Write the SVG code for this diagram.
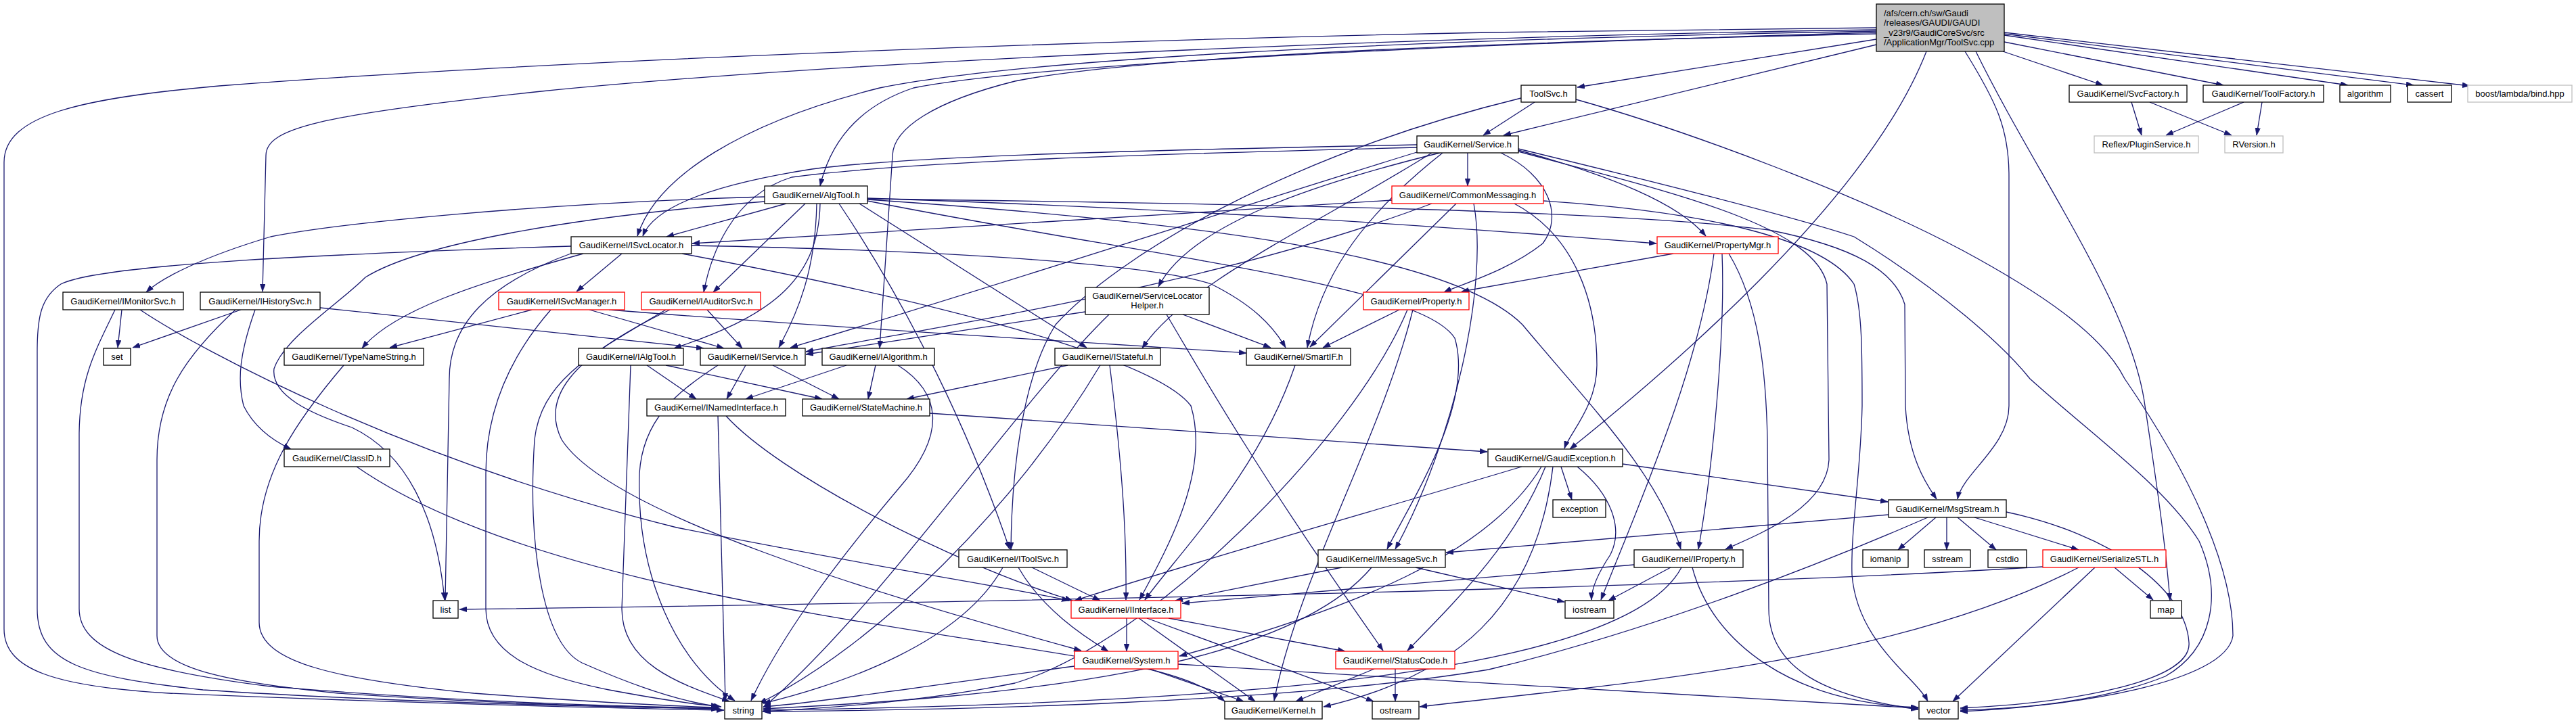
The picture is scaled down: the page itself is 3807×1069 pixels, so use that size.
<svg xmlns="http://www.w3.org/2000/svg" width="3807" height="1069" viewBox="0 0 3807 1069">
<style>
.e{fill:none;stroke:#191970;stroke-width:1.3;marker-end:url(#ah)}
.n rect{fill:#fff;stroke:#000;stroke-width:1.3}
.r rect{fill:#fff;stroke:#ff0000;stroke-width:1.3}
.g rect{fill:#fff;stroke:#bfbfbf;stroke-width:1.3}
.root rect{fill:#bfbfbf;stroke:#000;stroke-width:1.3}
text{font-family:"Liberation Sans",Arial,Helvetica,sans-serif;font-size:13px;fill:#000;text-anchor:middle}
.root text{text-anchor:start}
</style>
<defs>
<marker id="ah" markerUnits="userSpaceOnUse" markerWidth="11" markerHeight="8" refX="11" refY="4" orient="auto">
<path d="M0,0 L11,4 L0,8 z" fill="#191970" stroke="#191970" stroke-width="0.5"/>
</marker>
</defs>
<rect width="3807" height="1069" fill="#fff"/>
<g id="edges">
<path class="e" d="M2773,58 L2331,129"/>
<path class="e" d="M2773,66 L2222,200"/>
<path class="e" d="M2960,76 L3108,126"/>
<path class="e" d="M2962,62 L3286,126"/>
<path class="e" d="M2962,52 L3470,126"/>
<path class="e" d="M2962,50 L3567,126"/>
<path class="e" d="M2962,48 L3650,127"/>
<path class="e" d="M2847,76 C2760,300 2450,560 2320,664"/>
<path class="e" d="M2904,76 C2950,150 2969,190 2969,260 L2969,600 C2969,660 2900,700 2893,738"/>
<path class="e" d="M2920,76 C3010,260 3150,450 3170,600 C3185,700 3200,800 3207,888"/>
<path class="e" d="M2773,41 L2200,48 C1600,60 800,90 324,127 C120,145 6,170 6,240 L6,930 C6,990 80,1015 250,1025 C600,1040 950,1048 1070,1050"/>
<path class="e" d="M2773,44 C2200,52 1300,85 800,135 C470,170 393,190 393,230 L388,431"/>
<path class="e" d="M2773,46 C2000,60 1500,90 1300,130 C1100,180 970,260 942,349"/>
<path class="e" d="M2773,48 C2000,70 1500,100 1350,130 C1260,160 1225,220 1212,275"/>
<path class="e" d="M2773,50 C2300,60 1700,80 1500,120 C1380,150 1320,190 1319,230 L1300,515"/>
<path class="e" d="M2268,151 L2192,200"/>
<path class="e" d="M2329,147 C2500,195 2750,290 2900,370 C3030,440 3110,500 3140,560 C3250,720 3300,850 3300,940 C3290,1010 3060,1045 2897,1052"/>
<path class="e" d="M2248,145 C1900,230 1650,380 1560,480 C1510,560 1495,700 1494,813"/>
<path class="e" d="M3150,151 L3165,200"/>
<path class="e" d="M3177,151 L3298,200"/>
<path class="e" d="M3316,151 L3201,200"/>
<path class="e" d="M3343,151 L3335,200"/>
<path class="e" d="M2169,226 L2169,275"/>
<path class="e" d="M2128,226 C1950,270 1760,330 1712,424"/>
<path class="e" d="M2116,226 C1950,330 1750,420 1688,515"/>
<path class="e" d="M2132,226 C2000,330 1950,420 1932,514"/>
<path class="e" d="M2218,226 C2290,260 2310,320 2280,360 C2230,400 2160,420 2134,432"/>
<path class="e" d="M2244,222 C2380,260 2480,300 2521,349"/>
<path class="e" d="M2244,224 C2450,280 2680,330 2700,420 L2703,680 C2700,750 2600,790 2550,812"/>
<path class="e" d="M2094,214 C1700,222 1350,230 1200,250 C1040,275 965,310 950,349"/>
<path class="e" d="M2094,218 C1700,228 1350,238 1170,262 C1080,290 1050,380 1040,432"/>
<path class="e" d="M2094,225 C1850,300 1450,430 1168,514"/>
<path class="e" d="M2244,220 C2450,270 2650,320 2740,350 C2870,430 2960,510 3000,560 C3100,650 3200,720 3250,800 C3285,880 3270,960 3200,1000 C3100,1040 2980,1048 2897,1050"/>
<path class="e" d="M2281,297 C2550,315 2700,360 2740,420 C2752,460 2752,520 2752,600 C2750,700 2735,780 2737,850 C2745,950 2830,1000 2849,1037"/>
<path class="e" d="M2178,301 C2200,420 2150,650 2062,812"/>
<path class="e" d="M2152,301 L1936,513"/>
<path class="e" d="M2238,301 C2330,350 2360,450 2360,540 C2360,600 2320,640 2312,663"/>
<path class="e" d="M2057,296 C1700,320 1300,340 1023,360"/>
<path class="e" d="M2116,301 C1800,420 1400,480 1191,520"/>
<path class="e" d="M2473,375 L2160,431"/>
<path class="e" d="M2545,375 C2550,500 2530,700 2510,812"/>
<path class="e" d="M2555,375 C2600,450 2610,550 2612,650 L2614,900 C2614,990 2700,1030 2835,1049"/>
<path class="e" d="M2533,375 C2510,550 2420,750 2366,887"/>
<path class="e" d="M2068,458 L1955,514"/>
<path class="e" d="M2088,458 C2040,650 1920,850 1883,1036"/>
<path class="e" d="M2080,458 C2000,650 1700,950 1500,1010 C1350,1040 1200,1048 1127,1052"/>
<path class="e" d="M844,364 C500,375 150,390 90,420 C60,440 55,470 55,520 L55,900 C55,980 120,1000 300,1020 C600,1040 950,1046 1062,1048"/>
<path class="e" d="M846,374 C720,420 664,480 664,560 L658,887"/>
<path class="e" d="M862,375 C700,420 580,460 535,515"/>
<path class="e" d="M919,375 L852,431"/>
<path class="e" d="M1022,363 C1400,370 1700,390 1790,420 C1850,450 1880,480 1900,514"/>
<path class="e" d="M1008,375 C1300,430 1700,520 1760,600 C1790,700 1720,820 1684,887"/>
<path class="e" d="M1130,291 C800,300 500,330 400,350 C300,380 240,410 216,432"/>
<path class="e" d="M1130,298 C850,320 620,360 540,410 C500,450 420,500 405,545 C400,585 460,612 520,632 C600,670 645,760 657,887"/>
<path class="e" d="M1162,301 L985,350"/>
<path class="e" d="M1190,301 L1054,432"/>
<path class="e" d="M1207,301 C1205,400 1180,460 1151,514"/>
<path class="e" d="M1212,301 C1210,420 1130,470 996,515"/>
<path class="e" d="M1270,301 L1606,514"/>
<path class="e" d="M1240,301 C1320,420 1420,600 1492,812"/>
<path class="e" d="M1282,297 C1700,380 2100,420 2150,500 C2180,600 2080,750 2050,812"/>
<path class="e" d="M1282,293 C1800,310 2200,340 2448,360"/>
<path class="e" d="M1282,295 C1800,330 2150,380 2250,480 C2350,600 2450,700 2484,812"/>
<path class="e" d="M1282,294 C1900,302 2400,312 2614,340 C2740,365 2800,400 2815,450 L2816,600 C2820,680 2850,720 2862,738"/>
<path class="e" d="M180,458 L174,514"/>
<path class="e" d="M170,458 C140,520 118,560 117,640 L117,900 C117,960 200,990 400,1015 C700,1040 950,1045 1062,1047"/>
<path class="e" d="M207,458 C300,520 600,680 1000,780 C1300,840 1500,870 1580,888"/>
<path class="e" d="M356,458 L196,514"/>
<path class="e" d="M348,458 C270,530 232,590 232,680 L232,940 C232,990 350,1010 500,1025 C750,1042 960,1046 1062,1048"/>
<path class="e" d="M377,458 C355,520 350,560 360,600 C375,630 400,650 430,664"/>
<path class="e" d="M473,455 L1040,515"/>
<path class="e" d="M786,458 L576,514"/>
<path class="e" d="M814,458 C760,520 718,600 718,700 L718,900 C718,970 800,1000 900,1020 C980,1035 1030,1042 1062,1044"/>
<path class="e" d="M871,458 L1070,515"/>
<path class="e" d="M900,458 C1300,490 1600,505 1842,522"/>
<path class="e" d="M984,458 C880,520 800,560 790,650 C780,800 800,950 860,980 C950,1020 1020,1040 1066,1045"/>
<path class="e" d="M1045,458 L1097,515"/>
<path class="e" d="M990,458 C840,530 800,590 830,650 C900,760 1300,880 1598,962"/>
<path class="e" d="M1604,461 L1191,524"/>
<path class="e" d="M1748,465 L1878,514"/>
<path class="e" d="M1724,465 C1780,560 1860,700 2044,962"/>
<path class="e" d="M1639,465 C1500,600 1300,900 1128,1046"/>
<path class="e" d="M508,540 C440,620 383,700 383,800 L383,920 C383,980 500,1005 700,1025 C900,1040 1000,1044 1062,1046"/>
<path class="e" d="M932,540 L919,900 C919,980 1000,1010 1078,1037"/>
<path class="e" d="M956,540 L1029,590"/>
<path class="e" d="M984,540 L1215,590"/>
<path class="e" d="M1061,540 C1000,580 950,620 945,700 C940,850 1000,980 1086,1036"/>
<path class="e" d="M1102,540 L1074,590"/>
<path class="e" d="M1142,540 L1240,590"/>
<path class="e" d="M1251,540 L1102,590"/>
<path class="e" d="M1294,540 L1283,590"/>
<path class="e" d="M1327,540 C1390,580 1400,640 1330,720 C1220,850 1150,950 1110,1036"/>
<path class="e" d="M1578,540 L1340,590"/>
<path class="e" d="M1626,540 C1500,750 1300,950 1122,1040"/>
<path class="e" d="M1640,540 C1660,700 1665,800 1664,887"/>
<path class="e" d="M1914,540 C1860,700 1740,820 1692,887"/>
<path class="e" d="M1061,615 L1072,1036"/>
<path class="e" d="M1073,615 C1150,700 1400,830 1585,888"/>
<path class="e" d="M1374,611 L2198,668"/>
<path class="e" d="M527,690 C800,880 1400,930 1700,990 C1760,1005 1790,1020 1810,1037"/>
<path class="e" d="M2249,690 C2050,750 1800,820 1588,888"/>
<path class="e" d="M2278,690 C2200,820 2000,900 1743,970"/>
<path class="e" d="M2284,690 C2240,800 2160,880 2080,962"/>
<path class="e" d="M2295,690 C2270,900 2150,1000 1956,1045"/>
<path class="e" d="M2307,690 L2323,739"/>
<path class="e" d="M2331,690 C2380,730 2400,780 2380,820 C2360,850 2352,870 2352,887"/>
<path class="e" d="M2398,686 L2790,742"/>
<path class="e" d="M2791,761 L2137,817"/>
<path class="e" d="M2861,765 L2805,813"/>
<path class="e" d="M2877,765 L2877,813"/>
<path class="e" d="M2893,765 L2950,813"/>
<path class="e" d="M2918,765 L3072,813"/>
<path class="e" d="M2965,757 C3120,790 3230,870 3235,950 C3240,1010 3050,1040 2897,1047"/>
<path class="e" d="M2849,765 C2700,830 2450,930 2200,990 C1900,1040 1400,1050 1128,1052"/>
<path class="e" d="M3019,838 C2500,870 1500,890 679,901"/>
<path class="e" d="M3072,839 C2800,980 2400,1010 2098,1045"/>
<path class="e" d="M3096,839 L2886,1037"/>
<path class="e" d="M3125,839 L3182,887"/>
<path class="e" d="M1482,839 C1420,950 1250,1010 1128,1040"/>
<path class="e" d="M1505,839 C1540,900 1600,940 1638,963"/>
<path class="e" d="M1525,839 L1626,888"/>
<path class="e" d="M1983,839 L1737,888"/>
<path class="e" d="M2027,839 C1900,990 1500,1030 1128,1048"/>
<path class="e" d="M2092,839 L2312,890"/>
<path class="e" d="M2415,835 L1747,892"/>
<path class="e" d="M2469,839 L2377,888"/>
<path class="e" d="M2485,839 C2400,1000 1800,1040 1128,1050"/>
<path class="e" d="M2501,839 C2530,950 2650,1040 2835,1046"/>
<path class="e" d="M1665,914 L1665,963"/>
<path class="e" d="M1683,914 L1855,1037"/>
<path class="e" d="M1695,914 L2030,1037"/>
<path class="e" d="M1727,914 L1988,963"/>
<path class="e" d="M1588,985 C1400,1010 1200,1040 1128,1045"/>
<path class="e" d="M1699,989 L1838,1037"/>
<path class="e" d="M1741,982 C2100,1005 2500,1028 2835,1047"/>
<path class="e" d="M2031,989 L1915,1037"/>
<path class="e" d="M2062,989 L2062,1037"/>
</g>
<g id="nodes">
<g id="node-root" class="root"><rect x="2773" y="6" width="189" height="70"/><text x="2784" y="23.5">/afs/cern.ch/sw/Gaudi</text><text x="2784" y="38">/releases/GAUDI/GAUDI</text><text x="2784" y="52.5">_v23r9/GaudiCoreSvc/src</text><text x="2784" y="67">/ApplicationMgr/ToolSvc.cpp</text></g>
<g id="node-toolsvc" class="n"><rect x="2248" y="126" width="81" height="25"/><text x="2288.5" y="143">ToolSvc.h</text></g>
<g id="node-svcfactory" class="n"><rect x="3058" y="126" width="174" height="25"/><text x="3145" y="143">GaudiKernel/SvcFactory.h</text></g>
<g id="node-toolfactory" class="n"><rect x="3256" y="126" width="178" height="25"/><text x="3345" y="143">GaudiKernel/ToolFactory.h</text></g>
<g id="node-algorithm" class="n"><rect x="3458" y="126" width="75" height="25"/><text x="3495.5" y="143">algorithm</text></g>
<g id="node-cassert" class="n"><rect x="3558" y="126" width="65" height="25"/><text x="3590.5" y="143">cassert</text></g>
<g id="node-boost" class="g"><rect x="3647" y="126" width="154" height="25"/><text x="3724" y="143">boost/lambda/bind.hpp</text></g>
<g id="node-service" class="n"><rect x="2094" y="201" width="150" height="25"/><text x="2169" y="218">GaudiKernel/Service.h</text></g>
<g id="node-pluginservice" class="g"><rect x="3095" y="201" width="154" height="25"/><text x="3172" y="218">Reflex/PluginService.h</text></g>
<g id="node-rversion" class="g"><rect x="3288" y="201" width="86" height="25"/><text x="3331" y="218">RVersion.h</text></g>
<g id="node-algtool" class="n"><rect x="1130" y="275" width="152" height="26"/><text x="1206" y="292.5">GaudiKernel/AlgTool.h</text></g>
<g id="node-commonmessaging" class="r"><rect x="2057" y="275" width="224" height="26"/><text x="2169" y="292.5">GaudiKernel/CommonMessaging.h</text></g>
<g id="node-isvclocator" class="n"><rect x="844" y="350" width="178" height="25"/><text x="933" y="367">GaudiKernel/ISvcLocator.h</text></g>
<g id="node-propertymgr" class="r"><rect x="2449" y="350" width="179" height="25"/><text x="2538.5" y="367">GaudiKernel/PropertyMgr.h</text></g>
<g id="node-imonitorsvc" class="n"><rect x="93" y="432" width="178" height="26"/><text x="182" y="449.5">GaudiKernel/IMonitorSvc.h</text></g>
<g id="node-ihistorysvc" class="n"><rect x="296" y="432" width="177" height="26"/><text x="384.5" y="449.5">GaudiKernel/IHistorySvc.h</text></g>
<g id="node-isvcmanager" class="r"><rect x="737" y="432" width="186" height="26"/><text x="830" y="449.5">GaudiKernel/ISvcManager.h</text></g>
<g id="node-iauditorsvc" class="r"><rect x="948" y="432" width="176" height="26"/><text x="1036" y="449.5">GaudiKernel/IAuditorSvc.h</text></g>
<g id="node-servicelocatorhelper" class="n"><rect x="1604" y="425" width="183" height="40"/><text x="1695.5" y="441.5">GaudiKernel/ServiceLocator</text><text x="1695.5" y="456">Helper.h</text></g>
<g id="node-property" class="r"><rect x="2015" y="432" width="156" height="26"/><text x="2093" y="449.5">GaudiKernel/Property.h</text></g>
<g id="node-set" class="n"><rect x="153" y="515" width="40" height="25"/><text x="173" y="532">set</text></g>
<g id="node-typenamestring" class="n"><rect x="420" y="515" width="206" height="25"/><text x="523" y="532">GaudiKernel/TypeNameString.h</text></g>
<g id="node-ialgtool" class="n"><rect x="855" y="515" width="155" height="25"/><text x="932.5" y="532">GaudiKernel/IAlgTool.h</text></g>
<g id="node-iservice" class="n"><rect x="1035" y="515" width="155" height="25"/><text x="1112.5" y="532">GaudiKernel/IService.h</text></g>
<g id="node-ialgorithm" class="n"><rect x="1215" y="515" width="166" height="25"/><text x="1298" y="532">GaudiKernel/IAlgorithm.h</text></g>
<g id="node-istateful" class="n"><rect x="1559" y="515" width="156" height="25"/><text x="1637" y="532">GaudiKernel/IStateful.h</text></g>
<g id="node-smartif" class="n"><rect x="1842" y="515" width="154" height="25"/><text x="1919" y="532">GaudiKernel/SmartIF.h</text></g>
<g id="node-inamedinterface" class="n"><rect x="956" y="590" width="205" height="25"/><text x="1058.5" y="607">GaudiKernel/INamedInterface.h</text></g>
<g id="node-statemachine" class="n"><rect x="1186" y="590" width="188" height="25"/><text x="1280" y="607">GaudiKernel/StateMachine.h</text></g>
<g id="node-classid" class="n"><rect x="420" y="664" width="156" height="26"/><text x="498" y="681.5">GaudiKernel/ClassID.h</text></g>
<g id="node-gaudiexception" class="n"><rect x="2199" y="664" width="199" height="26"/><text x="2298.5" y="681.5">GaudiKernel/GaudiException.h</text></g>
<g id="node-exception" class="n"><rect x="2295" y="739" width="78" height="26"/><text x="2334" y="756.5">exception</text></g>
<g id="node-msgstream" class="n"><rect x="2791" y="739" width="174" height="26"/><text x="2878" y="756.5">GaudiKernel/MsgStream.h</text></g>
<g id="node-itoolsvc" class="n"><rect x="1417" y="813" width="160" height="26"/><text x="1497" y="830.5">GaudiKernel/IToolSvc.h</text></g>
<g id="node-imessagesvc" class="n"><rect x="1948" y="813" width="188" height="26"/><text x="2042" y="830.5">GaudiKernel/IMessageSvc.h</text></g>
<g id="node-iproperty" class="n"><rect x="2415" y="813" width="161" height="26"/><text x="2495.5" y="830.5">GaudiKernel/IProperty.h</text></g>
<g id="node-iomanip" class="n"><rect x="2753" y="813" width="67" height="26"/><text x="2786.5" y="830.5">iomanip</text></g>
<g id="node-sstream" class="n"><rect x="2844" y="813" width="68" height="26"/><text x="2878" y="830.5">sstream</text></g>
<g id="node-cstdio" class="n"><rect x="2938" y="813" width="57" height="26"/><text x="2966.5" y="830.5">cstdio</text></g>
<g id="node-serializestl" class="r"><rect x="3019" y="813" width="182" height="26"/><text x="3110" y="830.5">GaudiKernel/SerializeSTL.h</text></g>
<g id="node-list" class="n"><rect x="640" y="888" width="37" height="26"/><text x="658.5" y="905.5">list</text></g>
<g id="node-iinterface" class="r"><rect x="1583" y="888" width="162" height="26"/><text x="1664" y="905.5">GaudiKernel/IInterface.h</text></g>
<g id="node-iostream" class="n"><rect x="2313" y="888" width="72" height="26"/><text x="2349" y="905.5">iostream</text></g>
<g id="node-map" class="n"><rect x="3178" y="888" width="46" height="26"/><text x="3201" y="905.5">map</text></g>
<g id="node-system" class="r"><rect x="1588" y="963" width="153" height="26"/><text x="1664.5" y="980.5">GaudiKernel/System.h</text></g>
<g id="node-statuscode" class="r"><rect x="1974" y="963" width="176" height="26"/><text x="2062" y="980.5">GaudiKernel/StatusCode.h</text></g>
<g id="node-string" class="n"><rect x="1071" y="1037" width="55" height="26"/><text x="1098.5" y="1054.5">string</text></g>
<g id="node-kernel" class="n"><rect x="1810" y="1037" width="144" height="26"/><text x="1882" y="1054.5">GaudiKernel/Kernel.h</text></g>
<g id="node-ostream" class="n"><rect x="2028" y="1037" width="69" height="26"/><text x="2062.5" y="1054.5">ostream</text></g>
<g id="node-vector" class="n"><rect x="2836" y="1037" width="58" height="26"/><text x="2865" y="1054.5">vector</text></g>
</g>
</svg>
